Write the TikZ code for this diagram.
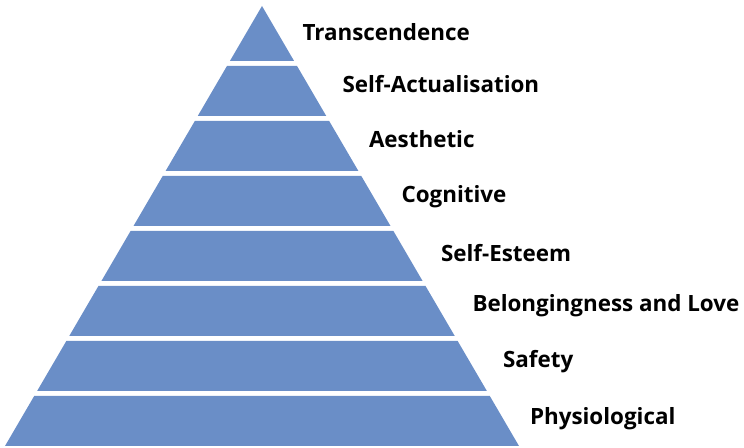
\documentclass[tikz,border=0pt]{standalone}
\usepackage{fontspec}
\setmainfont{Open Sans}
\definecolor{layerblue}{RGB}{106,142,199}
\tikzset{every picture/.style={line width=0.75pt}}
\tikzset{layer/.style={fill=layerblue,draw=none},
  need/.style={anchor=base west,inner sep=0pt,font=\fontsize{16.8}{20}\selectfont\bfseries}}

\begin{document}
\begin{tikzpicture}[x=0.75pt,y=0.75pt,yscale=-1,xscale=1]
\useasboundingbox (0,0) rectangle (744,448);

%Shape: Triangle [id:top]
\fill [layer] (262,6) -- (294.1,61) -- (229.9,61) -- cycle ;
%Shape: Trapezoid [id:l2]
\fill [layer] (226.95,66) -- (297.05,66) -- (326.25,116) -- (197.75,116) -- cycle ;
%Shape: Trapezoid [id:l3]
\fill [layer] (194.83,121) -- (329.17,121) -- (358.4,171) -- (165.6,171) -- cycle ;
%Shape: Trapezoid [id:l4]
\fill [layer] (162.7,176) -- (361.3,176) -- (390.5,226) -- (133.5,226) -- cycle ;
%Shape: Trapezoid [id:l5]
\fill [layer] (130.58,231) -- (393.42,231) -- (422.6,281) -- (101.4,281) -- cycle ;
%Shape: Trapezoid [id:l6]
\fill [layer] (98.45,286) -- (425.55,286) -- (454.75,336) -- (69.25,336) -- cycle ;
%Shape: Trapezoid [id:l7]
\fill [layer] (66.33,341) -- (457.67,341) -- (486.88,391) -- (37.13,391) -- cycle ;
%Shape: Trapezoid [id:l8]
\fill [layer] (34.2,396) -- (489.8,396) -- (519,446) -- (5,446) -- cycle ;

% Text Node
\node [need] (transc) at (302,41) {Transcendence};
% Text Node
\node [need] (selfact) at (342,93) {Self-Actualisation};
% Text Node
\node [need] (aesth) at (368.5,147.5) {Aesthetic};
% Text Node
\node [need] (cogn) at (401,203) {Cognitive};
% Text Node
\node [need] (esteem) at (440.5,261.5) {Self-Esteem};
% Text Node
\node [need] (belong) at (472,311.5) {Belongingness and Love};
% Text Node
\node [need] (safety) at (502.5,368) {Safety};
% Text Node
\node [need] (physio) at (529.5,425) {Physiological};

\end{tikzpicture}
\end{document}
